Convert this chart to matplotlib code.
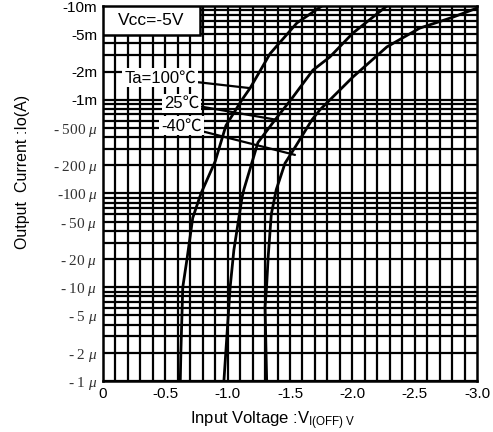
import numpy as np
import matplotlib.pyplot as plt
from matplotlib.patches import Rectangle

plt.rcParams['font.family'] = ['Liberation Sans', 'DejaVu Sans']
plt.rcParams['mathtext.fontset'] = 'custom'
plt.rcParams['mathtext.rm'] = 'Liberation Sans'
plt.rcParams['mathtext.it'] = 'Liberation Serif:italic'

# 入力電圧(絶対値 V) と 出力電流(絶対値 A)
v_100 = [0.62, 0.625, 0.64, 0.674, 0.72, 0.786, 0.90, 0.986, 1.115, 1.18, 1.34, 1.556, 1.756]
i_100 = [1e-6, 2.1e-6, 1e-5, 2e-5, 5.5e-5, 1e-4, 2.2e-4, 5.3e-4, 1.0e-3, 1.33e-3, 3.1e-3, 6.6e-3, 1e-2]

v_25 = [0.97, 1.0, 1.02, 1.05, 1.115, 1.13, 1.243, 1.38, 1.524, 1.684, 1.82, 2.005, 2.277]
i_25 = [1e-6, 4e-6, 1e-5, 2.5e-5, 9e-5, 1.1e-4, 3.5e-4, 6.1e-4, 1.07e-3, 2.07e-3, 2.86e-3, 5.15e-3, 1e-2]

v_m40 = [1.313, 1.30, 1.312, 1.325, 1.35, 1.39, 1.46, 1.54, 1.676, 1.74, 2.005, 2.277, 2.54, 2.807, 3.0]
i_m40 = [1e-6, 6.2e-6, 1e-5, 2.1e-5, 6e-5, 1.1e-4, 2.1e-4, 3.1e-4, 6.1e-4, 7.8e-4, 1.75e-3, 3.66e-3, 5.8e-3, 7.6e-3, 9.5e-3]

x_ticks = [0, 0.5, 1.0, 1.5, 2.0, 2.5, 3.0]
x_labels = ['0', '-0.5', '-1.0', '-1.5', '-2.0', '-2.5', '-3.0']
y_ticks = [1e-2, 5e-3, 2e-3, 1e-3, 5e-4, 2e-4, 1e-4, 5e-5, 2e-5, 1e-5, 5e-6, 2e-6, 1e-6]
y_labels = ['-10m', '-5m', '-2m', '-1m', r'- 500 $\mu$', r'- 200 $\mu$', r'-100 $\mu$', r'- 50 $\mu$',
            r'- 20 $\mu$', r'- 10 $\mu$', r'- 5 $\mu$', r'- 2 $\mu$', r'- 1 $\mu$']

fig = plt.figure(figsize=(4.93, 4.32), dpi=100)
ax = fig.add_axes([0.2089, 0.1181, 0.7586, 0.8680])
ax.set_xlim(0, 3.0)
ax.set_yscale('log')
ax.set_ylim(1e-6, 1e-2)

# グリッド
for xv in np.arange(0.1, 3.0, 0.1):
    ax.axvline(xv, color='black', lw=1.6, zorder=1)
for dec in [1e-6, 1e-5, 1e-4, 1e-3]:
    for m in range(1, 10):
        ax.axhline(dec * m, color='black', lw=1.6, zorder=1)
for s in ax.spines.values():
    s.set_linewidth(1.8)

ax.plot(v_100, i_100, color='black', lw=2, zorder=4)
ax.plot(v_25, i_25, color='black', lw=2, zorder=4)
ax.plot(v_m40, i_m40, color='black', lw=2, zorder=4)

ax.set_xticks(x_ticks)
ax.set_xticklabels(x_labels, fontsize=11)
ax.set_yticks(y_ticks)
ax.set_yticklabels(y_labels, fontsize=11)
ax.minorticks_off()
ax.tick_params(length=0, pad=4)
for lab in ax.get_yticklabels():
    if 'mu' in lab.get_text():
        lab.set_family('Liberation Serif')
        lab.set_color('#333333')

# Vcc ボックス
ax.add_patch(Rectangle((0, 0.922), 0.259, 0.078, transform=ax.transAxes,
                       facecolor='white', edgecolor='black', lw=1.8, zorder=5))
ax.text(0.13, 0.961, 'Vcc=-5V', transform=ax.transAxes, ha='center', va='center',
        fontsize=12.5, zorder=6)

box = dict(boxstyle='square,pad=0.12', fc='white', ec='none')
arrow = dict(arrowstyle='-', color='black', lw=1.6, shrinkA=0, shrinkB=0)
fam = ['Liberation Sans', 'Noto Sans CJK JP']
ax.annotate('Ta=100℃', xy=(1.18, 1.33e-3), xytext=(0.46, 1.71e-3), ha='center', va='center',
            fontsize=12, bbox=box, arrowprops=arrow, zorder=6, family=fam)
ax.annotate('25℃', xy=(1.395, 6.1e-4), xytext=(0.63, 9.2e-4), ha='center', va='center',
            fontsize=12, bbox=box, arrowprops=arrow, zorder=6, family=fam)
ax.annotate('-40℃', xy=(1.54, 2.58e-4), xytext=(0.63, 5.25e-4), ha='center', va='center',
            fontsize=12, bbox=box, arrowprops=arrow, zorder=6, family=fam)

fig.text(23 / 493, 1 - 172 / 432, 'Output  Current :Io(A)', rotation=90, ha='center', va='center',
         fontsize=11.5)
fig.text(273 / 493, 1 - 421 / 432, r'Input Voltage :V$_{\mathrm{I(OFF)}\ \mathrm{V}}$',
         ha='center', va='center', fontsize=12)

fig.savefig('out.png', dpi=100)
